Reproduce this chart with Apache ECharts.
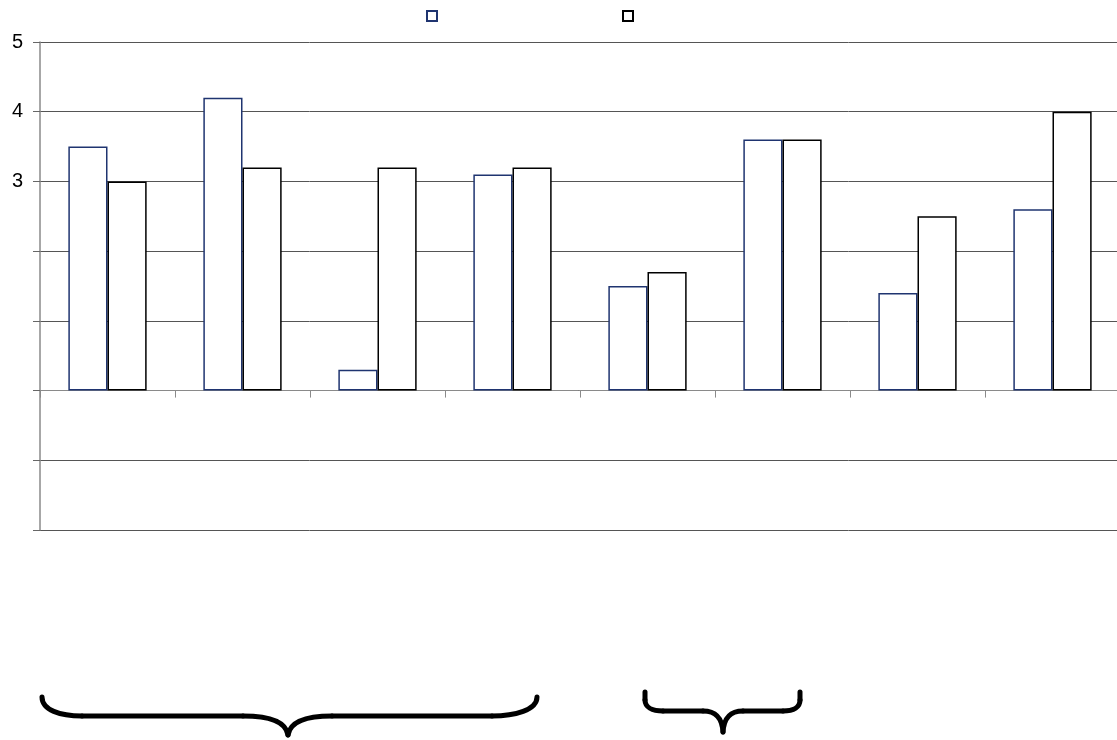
<!DOCTYPE html>
<html>
<head>
<meta charset="utf-8">
<script src="https://cdn.jsdelivr.net/npm/echarts@6/dist/echarts.min.js"></script>
<style>html,body{margin:0;padding:0;background:#fff}#c{width:1117px;height:740px}</style>
</head>
<body>
<div id="c"></div>
<script>
var categories = ['1','2','3','4','5','6','7','8'];
var seriesNames = ['Series 1','Series 2'];
var series1 = [3.5, 4.2, 0.3, 3.1, 1.5, 3.6, 1.4, 2.6];
var series2 = [3.0, 3.2, 3.2, 3.2, 1.7, 3.6, 2.5, 4.0];
var shownTicks = [3, 4, 5];

var braceStyle = {fill:null, stroke:'#000', lineWidth:5, lineCap:'round'};
function L(x1,y1,x2,y2){return {type:'line', shape:{x1:x1,y1:y1,x2:x2,y2:y2}, style:braceStyle, z:10};}
function B(x1,y1,c1x,c1y,c2x,c2y,x2,y2){return {type:'bezierCurve', shape:{x1:x1,y1:y1,cpx1:c1x,cpy1:c1y,cpx2:c2x,cpy2:c2y,x2:x2,y2:y2}, style:braceStyle, z:10};}

var braces = [
  B(42,697, 42,710, 60,716, 82,716),
  L(82,716, 243,716),
  B(243,716, 270,716, 286,722, 288,735),
  B(288,735, 290,722, 306,716, 332,716),
  L(332,716, 492,716),
  B(492,716, 515,716, 537,710, 537,697),

  L(645,692, 645,700),
  B(645,700, 645,707, 652,711, 663,711),
  L(663,711, 703,711),
  B(703,711, 716,711, 722,718, 723,732),
  B(723,732, 724,718, 730,711, 743,711),
  L(743,711, 783,711),
  B(783,711, 794,711, 800,707, 800,700),
  L(800,700, 800,692)
];

var chart = echarts.init(document.getElementById('c'), null, {renderer:'canvas'});
chart.setOption({
  animation:false,
  backgroundColor:'#fff',
  grid:{left:40, top:42, width:1080, height:488, containLabel:false, outerBoundsMode:'none'},
  legend:[
    {data:[seriesNames[0]], left:426, top:10, itemWidth:10, itemHeight:10, icon:'rect', formatter:function(){return '';}, itemGap:0, padding:0},
    {data:[seriesNames[1]], left:622, top:10, itemWidth:10, itemHeight:10, icon:'rect', formatter:function(){return '';}, itemGap:0, padding:0}
  ],
  xAxis:{
    type:'category', data:categories,
    axisLine:{onZero:true, lineStyle:{color:'#8a8a8a', width:1}},
    axisTick:{show:true, length:7, lineStyle:{color:'#8a8a8a'}},
    axisLabel:{show:false},
    splitLine:{show:false}
  },
  yAxis:{
    type:'value', min:-2, max:5, interval:1,
    axisLine:{show:true, lineStyle:{color:'#8a8a8a', width:1.5}},
    axisTick:{show:true, length:7, lineStyle:{color:'#666'}},
    axisLabel:{fontFamily:'Liberation Sans', fontSize:20, color:'#000', margin:17,
      formatter:function(v){return shownTicks.indexOf(v)>=0 ? String(v) : '';}},
    splitLine:{show:true, lineStyle:{color:'#555', width:1}}
  },
  series:[
    {name:seriesNames[0], type:'bar', data:series1, barGap:'0%', barCategoryGap:'42%',
      itemStyle:{color:'#fff', borderColor:'#1f3470', borderWidth:1.5}},
    {name:seriesNames[1], type:'bar', data:series2,
      itemStyle:{color:'#fff', borderColor:'#000', borderWidth:1.5}}
  ],
  graphic:braces
});
</script>
</body>
</html>
